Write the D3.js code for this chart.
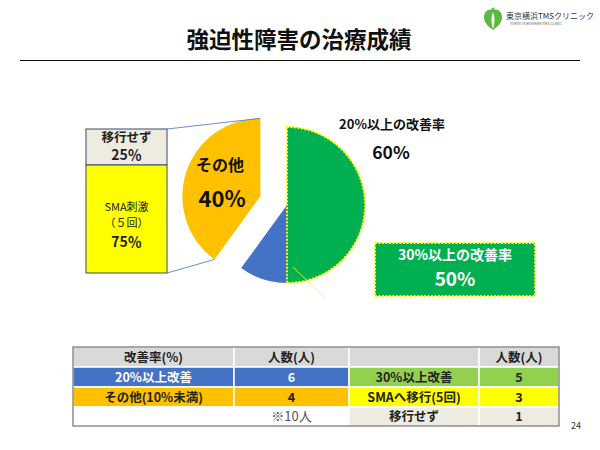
<!DOCTYPE html>
<html><head><meta charset="utf-8">
<script src="https://cdn.jsdelivr.net/npm/d3@7"></script>
<style>body{margin:0;background:#fff}svg{display:block}text{font-family:"Noto Sans CJK JP","Noto Sans",sans-serif}</style>
</head><body><svg id="c" width="600" height="450"></svg>
<script>
const pieCategories = ["30%以上改善", "20%以上改善(30%未満)", "その他"];
const pieValues = [5, 1, 4];
const pieColors = ["#00B050", "#4472C4", "#FFC000"];
const barCategories = ["移行せず", "SMA刺激"];
const barValues = [1, 3];
const barColors = ["#EEECE1", "#FFFF00"];
const tableHeader = ["改善率(%)", "人数(人)", "", "人数(人)"];
const tableLeftLabels = ["20%以上改善", "その他(10%未満)", ""];
const tableLeftValues = ["6", "4", "※10人"];
const tableRightLabels = ["30%以上改善", "SMAへ移行(5回)", "移行せず"];
const tableRightValues = ["5", "3", "1"];
const leftColors = ["#4472C4", "#FFC000", "#FFFFFF"];
const rightColors = ["#92D050", "#FFFF00", "#EEECE1"];

const svg = d3.select("#c");

// Title
svg.append("text").attr("x", 299).attr("y", 48).attr("text-anchor", "middle")
  .attr("font-size", 22.5).attr("font-weight", "bold").attr("fill", "#111").text("強迫性障害の治療成績");
svg.append("line").attr("x1", 20).attr("x2", 580).attr("y1", 60.5).attr("y2", 60.5)
  .attr("stroke", "#111").attr("stroke-width", 1.2);

// Logo
const logo = svg.append("g").attr("transform", "translate(493,19)");
logo.append("path").attr("d", "M0,-9 C-4,-11 -9,-8 -9,-2 C-9,4 -4,8 0,11 C4,8 9,4 9,-2 C9,-8 4,-11 0,-9Z").attr("fill", "#5DB840");
logo.append("path").attr("d", "M0,-7 C-2,-2 -2,4 0,10 C2,4 2,-2 0,-7Z").attr("fill", "#fff");
logo.append("circle").attr("cx", 0).attr("cy", -10).attr("r", 1.5).attr("fill", "#5DB840");
svg.append("text").attr("x", 506).attr("y", 19).attr("font-size", 8).attr("fill", "#333").text("東京横浜TMSクリニック");
svg.append("text").attr("x", 510).attr("y", 25).attr("font-size", 3.6).attr("fill", "#555").text("TOKYO YOKOHAMA TMS CLINIC");

// Pie
const cx = 287, cy = 205, r = 78;
const pie = d3.pie().sort(null).value(d => d)(pieValues);
const arc = d3.arc().innerRadius(0).outerRadius(r);
const explode = 28;
pie.forEach((p, i) => {
  let dx = 0, dy = 0;
  if (i === 2) {
    const m = (p.startAngle + p.endAngle) / 2;
    dx = Math.sin(m) * explode; dy = -Math.cos(m) * explode;
  }
  p.dx = dx; p.dy = dy;
});
[1, 2, 0].forEach(i => {
  const p = pie[i];
  const path = svg.append("path").attr("d", arc(p))
    .attr("transform", `translate(${cx + p.dx},${cy + p.dy})`)
    .attr("fill", pieColors[i]);
  if (i === 0) path.attr("stroke", "#FFFF00").attr("stroke-width", 2).attr("stroke-dasharray", "2,1.5");
});

// Bar of pie
const other = pie[2];
const barX = 86, barW = 81, barTop = 129, barBottom = 273;
const yScale = d3.scaleLinear().domain([0, d3.sum(barValues)]).range([barTop, barBottom]);
let acc = 0;
const barSegs = barValues.map((v, i) => { const s = { y0: yScale(acc), y1: yScale(acc + v), i }; acc += v; return s; });
barSegs.forEach(s => {
  svg.append("rect").attr("x", barX).attr("y", s.y0).attr("width", barW).attr("height", s.y1 - s.y0)
    .attr("fill", barColors[s.i]).attr("stroke", "#3B4A6B").attr("stroke-width", 1);
});
const ocx = cx + other.dx, ocy = cy + other.dy;
const ptTop = [ocx + Math.sin(other.endAngle) * r, ocy - Math.cos(other.endAngle) * r];
const ptBot = [ocx + Math.sin(other.startAngle) * r, ocy - Math.cos(other.startAngle) * r];
svg.append("line").attr("x1", barX + barW).attr("y1", barTop).attr("x2", ptTop[0]).attr("y2", ptTop[1]).attr("stroke", "#4472C4").attr("stroke-width", 0.8);
svg.append("line").attr("x1", barX + barW).attr("y1", barBottom).attr("x2", ptBot[0]).attr("y2", ptBot[1]).attr("stroke", "#4472C4").attr("stroke-width", 0.8);

const bmx = barX + barW / 2;
const pct = v => Math.round(v / d3.sum(barValues) * 100) + "％";
svg.append("text").attr("x", bmx).attr("y", 142).attr("text-anchor", "middle").attr("font-size", 12.5).attr("font-weight", "bold").attr("fill", "#222").text(barCategories[0]);
svg.append("text").attr("x", bmx).attr("y", 160).attr("text-anchor", "middle").attr("font-size", 14).attr("font-weight", "bold").attr("fill", "#222").text(pct(barValues[0]));
svg.append("text").attr("x", bmx).attr("y", 210.5).attr("text-anchor", "middle").attr("font-size", 11).attr("fill", "#222").text("SMA刺激");
svg.append("text").attr("x", bmx).attr("y", 227).attr("text-anchor", "middle").attr("font-size", 11).attr("fill", "#222").text("（５回）");
svg.append("text").attr("x", bmx).attr("y", 247).attr("text-anchor", "middle").attr("font-size", 14).attr("font-weight", "bold").attr("fill", "#222").text(pct(barValues[1]));

const total = d3.sum(pieValues);
svg.append("text").attr("x", 220).attr("y", 171).attr("text-anchor", "middle").attr("font-size", 16).attr("font-weight", "bold").attr("fill", "#111").text("その他");
svg.append("text").attr("x", 222).attr("y", 207).attr("text-anchor", "middle").attr("font-size", 22).attr("font-weight", "bold").attr("fill", "#111").text(Math.round(pieValues[2] / total * 100) + "%");
svg.append("text").attr("x", 392).attr("y", 129).attr("text-anchor", "middle").attr("font-size", 13).attr("font-weight", "bold").attr("fill", "#111").text("20%以上の改善率");
svg.append("text").attr("x", 391).attr("y", 159).attr("text-anchor", "middle").attr("font-size", 17.5).attr("font-weight", "bold").attr("fill", "#111").text(Math.round((pieValues[0] + pieValues[1]) / total * 100) + "%");

svg.append("line").attr("x1", 293).attr("y1", 267).attr("x2", 325).attr("y2", 298).attr("stroke", "#FFFF00").attr("stroke-width", 0.8);
svg.append("rect").attr("x", 375).attr("y", 243).attr("width", 160).attr("height", 53)
  .attr("fill", "#00B050").attr("stroke", "#FFFF00").attr("stroke-width", 2).attr("stroke-dasharray", "2,1.5");
svg.append("text").attr("x", 455).attr("y", 260).attr("text-anchor", "middle").attr("font-size", 14).attr("font-weight", "bold").attr("fill", "#fff").text("30%以上の改善率");
svg.append("text").attr("x", 455).attr("y", 286).attr("text-anchor", "middle").attr("font-size", 19).attr("font-weight", "bold").attr("fill", "#fff").text(Math.round(pieValues[0] / total * 100) + "%");

// Table
const colX = [73, 234, 349, 479, 559];
const rowY = [347, 367, 387, 407, 426];
const tbl = svg.append("g");
const rows = [
  { cells: tableHeader, colors: ["#D9D9D9", "#D9D9D9", "#D9D9D9", "#D9D9D9"], text: ["#222", "#222", "#222", "#222"] },
  ...[0, 1, 2].map(i => ({
    cells: [tableLeftLabels[i], tableLeftValues[i], tableRightLabels[i], tableRightValues[i]],
    colors: [leftColors[i], leftColors[i], rightColors[i], rightColors[i]],
    text: i === 0 ? ["#fff", "#fff", "#222", "#222"] : ["#222", "#222", "#222", "#222"]
  }))
];
rows.forEach((row, ri) => {
  row.cells.forEach((c, ci) => {
    tbl.append("rect").attr("x", colX[ci]).attr("y", rowY[ri]).attr("width", colX[ci + 1] - colX[ci]).attr("height", rowY[ri + 1] - rowY[ri])
      .attr("fill", row.colors[ci]).attr("stroke", "#fff").attr("stroke-width", 1.5);
  });
});
rows.forEach((row, ri) => {
  row.cells.forEach((c, ci) => {
    const isNote = ri === 3 && ci === 1;
    tbl.append("text").attr("x", (colX[ci] + colX[ci + 1]) / 2).attr("y", (rowY[ri] + rowY[ri + 1]) / 2 + 4.5)
      .attr("text-anchor", "middle").attr("font-size", isNote ? 13 : 12.5)
      .attr("font-weight", isNote ? "normal" : "bold").attr("fill", isNote ? "#555" : row.text[ci]).text(c);
  });
});
tbl.append("rect").attr("x", colX[0]).attr("y", rowY[0]).attr("width", colX[4] - colX[0]).attr("height", rowY[4] - rowY[0])
  .attr("fill", "none").attr("stroke", "#555").attr("stroke-width", 1);

svg.append("text").attr("x", 576).attr("y", 429).attr("text-anchor", "middle").attr("font-size", 9).attr("fill", "#333").text("24");
</script></body></html>
